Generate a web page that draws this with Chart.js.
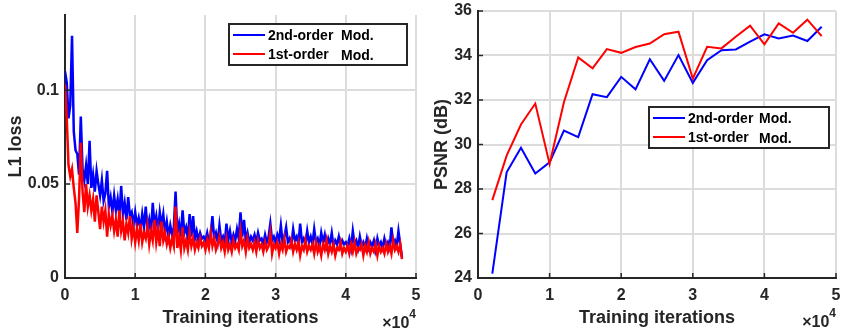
<!DOCTYPE html>
<html>
<head>
<meta charset="utf-8">
<script src="https://cdn.jsdelivr.net/npm/chart.js@4"></script>
<style>
  body { margin: 0; background: #fff; }
  #wrap { position: relative; width: 841px; height: 329px; }
  canvas { position: absolute; top: 0; }
</style>
</head>
<body>
<div id="wrap">
  <canvas id="lossChart" width="420" height="329" style="left:0"></canvas>
  <canvas id="psnrChart" width="421" height="329" style="left:420px"></canvas>
</div>
<script>
// ---- data ----
const lossStep = 250; // iterations between logged loss values

const lossBlue = [
  0.110, 0.104, 0.085, 0.092, 0.129, 0.078, 0.068, 0.066, 0.055, 0.086, 0.058, 0.052, 0.060, 0.050, 0.073, 0.048, 0.055, 0.046, 0.057, 0.050,
  0.044, 0.052, 0.041, 0.045, 0.057, 0.038, 0.043, 0.035, 0.044, 0.036, 0.042, 0.033, 0.049, 0.034, 0.040, 0.031, 0.043, 0.033, 0.035, 0.028,
  0.035, 0.028, 0.032, 0.026, 0.034, 0.027, 0.038, 0.026, 0.031, 0.024, 0.040, 0.028, 0.033, 0.025, 0.035, 0.028, 0.034, 0.024, 0.030, 0.022,
  0.028, 0.023, 0.027, 0.046, 0.024, 0.029, 0.022, 0.036, 0.024, 0.027, 0.021, 0.034, 0.022, 0.033, 0.021, 0.025, 0.020, 0.024, 0.021, 0.022,
  0.020, 0.024, 0.019, 0.023, 0.033, 0.021, 0.024, 0.019, 0.028, 0.020, 0.022, 0.018, 0.029, 0.020, 0.025, 0.019, 0.023, 0.020, 0.026, 0.021,
  0.035, 0.022, 0.031, 0.020, 0.024, 0.019, 0.022, 0.020, 0.023, 0.019, 0.024, 0.020, 0.021, 0.018, 0.023, 0.019, 0.022, 0.029, 0.020, 0.022,
  0.019, 0.023, 0.020, 0.028, 0.019, 0.022, 0.027, 0.019, 0.021, 0.018, 0.026, 0.020, 0.022, 0.018, 0.029, 0.019, 0.021, 0.018, 0.025, 0.019,
  0.022, 0.018, 0.026, 0.019, 0.021, 0.017, 0.024, 0.019, 0.023, 0.017, 0.021, 0.018, 0.024, 0.017, 0.020, 0.018, 0.022, 0.017, 0.020, 0.018,
  0.019, 0.017, 0.021, 0.016, 0.025, 0.018, 0.020, 0.016, 0.022, 0.017, 0.019, 0.016, 0.021, 0.016, 0.019, 0.017, 0.020, 0.015, 0.021, 0.017,
  0.019, 0.016, 0.021, 0.017, 0.019, 0.016, 0.027, 0.018, 0.020, 0.017, 0.025, 0.018, 0.011
];

const lossRed = [
  0.103, 0.085, 0.060, 0.054, 0.058, 0.048, 0.040, 0.024, 0.042, 0.072, 0.046, 0.035, 0.050, 0.038, 0.044, 0.036, 0.042, 0.030, 0.044, 0.035,
  0.026, 0.038, 0.030, 0.036, 0.022, 0.034, 0.028, 0.033, 0.025, 0.031, 0.022, 0.036, 0.025, 0.030, 0.020, 0.029, 0.024, 0.033, 0.021, 0.027,
  0.019, 0.026, 0.020, 0.029, 0.019, 0.024, 0.021, 0.028, 0.018, 0.025, 0.020, 0.031, 0.019, 0.026, 0.017, 0.030, 0.020, 0.024, 0.018, 0.022,
  0.016, 0.021, 0.017, 0.038, 0.016, 0.022, 0.015, 0.027, 0.016, 0.020, 0.015, 0.024, 0.017, 0.021, 0.015, 0.019, 0.016, 0.021, 0.017, 0.019,
  0.015, 0.020, 0.016, 0.024, 0.017, 0.021, 0.015, 0.018, 0.022, 0.016, 0.019, 0.014, 0.021, 0.015, 0.018, 0.014, 0.020, 0.016, 0.018, 0.015,
  0.025, 0.017, 0.020, 0.014, 0.021, 0.016, 0.018, 0.015, 0.019, 0.014, 0.020, 0.016, 0.018, 0.014, 0.019, 0.015, 0.017, 0.024, 0.013, 0.018,
  0.016, 0.019, 0.013, 0.018, 0.015, 0.021, 0.014, 0.017, 0.016, 0.020, 0.014, 0.018, 0.015, 0.019, 0.012, 0.017, 0.015, 0.020, 0.014, 0.017,
  0.015, 0.018, 0.013, 0.019, 0.014, 0.017, 0.012, 0.018, 0.015, 0.020, 0.013, 0.017, 0.014, 0.018, 0.012, 0.016, 0.015, 0.019, 0.013, 0.016,
  0.014, 0.017, 0.013, 0.018, 0.014, 0.019, 0.013, 0.016, 0.015, 0.018, 0.012, 0.017, 0.014, 0.019, 0.013, 0.016, 0.014, 0.018, 0.012, 0.017,
  0.014, 0.016, 0.013, 0.018, 0.014, 0.017, 0.013, 0.020, 0.015, 0.017, 0.014, 0.018, 0.010
];

const lossIters = lossBlue.map((_, i) => i * lossStep);

const psnrIters = [2000, 4000, 6000, 8000, 10000, 12000, 14000, 16000, 18000, 20000, 22000, 24000,
                   26000, 28000, 30000, 32000, 34000, 36000, 38000, 40000, 42000, 44000, 46000, 48000];
const psnrBlue = [24.2, 28.75, 29.85, 28.7, 29.2, 30.63, 30.33, 32.26, 32.13, 33.04, 32.48, 33.83,
                  32.86, 34.02, 32.77, 33.79, 34.24, 34.27, 34.62, 34.95, 34.77, 34.9, 34.65, 35.29];
const psnrRed = [27.5, 29.5, 30.9, 31.84, 29.13, 31.9, 33.91, 33.42, 34.29, 34.12, 34.38, 34.54,
                 34.96, 35.07, 32.96, 34.39, 34.32, 34.84, 35.34, 34.5, 35.44, 35.02, 35.61, 34.87];

const xTicks = [0, 10000, 20000, 30000, 40000, 50000];
const lossYTicks = [0, 0.05, 0.1];
const psnrYTicks = [24, 26, 28, 30, 32, 34, 36];
const seriesNames = ['2nd-order', '1st-order'];
const seriesColors = ['#0000ff', '#ff0000'];

// ---- look ----
const axisColor = '#262626';
const gridColor = '#dcdcdc';
const fontFamily = '"Liberation Sans", Arial, Helvetica, sans-serif';

Chart.defaults.font.family = fontFamily;
Chart.defaults.font.weight = 'bold';
Chart.defaults.color = axisColor;

// MATLAB-ish extras: inward ticks, x10^4 exponent, boxed legend inside the axes
const matlabAxes = {
  id: 'matlabAxes',
  afterDraw(chart, args, opts) {
    const ctx = chart.ctx;
    const area = chart.chartArea;
    const xs = chart.scales.x, ys = chart.scales.y;
    ctx.save();

    // inward tick marks
    ctx.strokeStyle = axisColor;
    ctx.lineWidth = 1.5;
    ctx.beginPath();
    xs.ticks.forEach(t => {
      const px = xs.getPixelForValue(t.value);
      ctx.moveTo(px, area.bottom);
      ctx.lineTo(px, area.bottom - 5);
    });
    ys.ticks.forEach(t => {
      const py = ys.getPixelForValue(t.value);
      ctx.moveTo(area.left, py);
      ctx.lineTo(area.left + 5, py);
    });
    ctx.stroke();

    // exponent label
    ctx.fillStyle = axisColor;
    ctx.textBaseline = 'alphabetic';
    ctx.textAlign = 'left';
    ctx.font = 'bold 12px ' + fontFamily;
    const wSup = ctx.measureText('4').width;
    ctx.font = 'bold 16px ' + fontFamily;
    const wBase = ctx.measureText('\u00d710').width;
    const ex = area.right - wSup - wBase;
    ctx.fillText('\u00d710', ex, opts.expY);
    ctx.font = 'bold 12px ' + fontFamily;
    ctx.fillText('4', ex + wBase, opts.expY - 10);

    // legend
    const L = opts.legend;
    const bx = area.left + L.dx, by = area.top + L.dy;
    ctx.fillStyle = '#fff';
    ctx.fillRect(bx, by, L.w, L.h);
    ctx.lineWidth = 2;
    ctx.strokeStyle = axisColor;
    ctx.strokeRect(bx, by, L.w, L.h);
    ctx.font = 'bold 14px ' + fontFamily;
    ctx.textBaseline = 'middle';
    seriesNames.forEach((name, i) => {
      const ry = by + (i === 0 ? 11 : 30);
      ctx.strokeStyle = seriesColors[i];
      ctx.lineWidth = 2;
      ctx.beginPath();
      ctx.moveTo(bx + 4, ry);
      ctx.lineTo(bx + 36, ry);
      ctx.stroke();
      ctx.fillStyle = '#000';
      ctx.fillText(name, bx + 39, ry + 1);
      ctx.fillText('Mod.', bx + L.modX, ry + 1 + (i === 1 ? 1 : 0));
    });
    ctx.restore();
  }
};

function makeScales(yMin, yMax, yTicks, yWidth, yTitle, yTitlePad) {
  return {
    x: {
      type: 'linear',
      min: 0,
      max: 50000,
      afterBuildTicks: s => { s.ticks = xTicks.map(v => ({ value: v })); },
      afterFit: s => { s.height = 51; s.paddingLeft = 0; s.paddingRight = 0; },
      grid: { color: gridColor, lineWidth: 2, drawTicks: false },
      border: { color: axisColor, width: 2 },
      ticks: {
        padding: 8,
        font: { size: 16, weight: 'bold' },
        callback: v => String(v / 10000),
        maxRotation: 0
      },
      title: {
        display: true,
        text: 'Training iterations',
        font: { size: 18, weight: 'bold' },
        padding: { top: 0, bottom: 0 }
      }
    },
    y: {
      min: yMin,
      max: yMax,
      afterBuildTicks: s => { s.ticks = yTicks.map(v => ({ value: v })); },
      afterFit: s => { s.width = yWidth; s.paddingTop = 0; s.paddingBottom = 0; },
      grid: { color: gridColor, lineWidth: 2, drawTicks: false },
      border: { color: axisColor, width: 2 },
      ticks: {
        padding: 6,
        font: { size: 16, weight: 'bold' },
        callback: v => String(v)
      },
      title: {
        display: true,
        text: yTitle,
        font: { size: 18, weight: 'bold' },
        padding: { top: yTitlePad, bottom: 0 }
      }
    }
  };
}

function lineSet(label, xs, ys, color, order, width) {
  return {
    label: label,
    data: xs.map((x, i) => ({ x: x, y: ys[i] })),
    borderColor: color,
    borderWidth: width,
    pointRadius: 0,
    tension: 0,
    fill: false,
    order: order
  };
}

// Left: L1 loss
new Chart(document.getElementById('lossChart'), {
  type: 'line',
  data: {
    datasets: [
      lineSet(seriesNames[0] + ' Mod.', lossIters, lossBlue, seriesColors[0], 1, 2.5),
      lineSet(seriesNames[1] + ' Mod.', lossIters, lossRed, seriesColors[1], 0, 2.5)
    ]
  },
  options: {
    responsive: false,
    animation: false,
    layout: { padding: { top: 15, right: 4, left: 0, bottom: 0 } },
    scales: makeScales(0, 0.14, lossYTicks, 65, 'L1 loss', 5),
    plugins: {
      legend: { display: false },
      tooltip: { enabled: false },
      matlabAxes: { expY: 328, legend: { dx: 164, dy: 9, w: 178, h: 41, modX: 112 } }
    }
  },
  plugins: [matlabAxes]
});

// Right: PSNR
new Chart(document.getElementById('psnrChart'), {
  type: 'line',
  data: {
    datasets: [
      lineSet(seriesNames[0] + ' Mod.', psnrIters, psnrBlue, seriesColors[0], 1, 2),
      lineSet(seriesNames[1] + ' Mod.', psnrIters, psnrRed, seriesColors[1], 0, 2)
    ]
  },
  options: {
    responsive: false,
    animation: false,
    layout: { padding: { top: 11, right: 5, left: 0, bottom: 0 } },
    scales: makeScales(24, 36, psnrYTicks, 58, 'PSNR (dB)', 11),
    plugins: {
      legend: { display: false },
      tooltip: { enabled: false },
      matlabAxes: { expY: 327, legend: { dx: 171, dy: 96, w: 180, h: 41, modX: 110 } }
    }
  },
  plugins: [matlabAxes]
});
</script>
</body>
</html>
